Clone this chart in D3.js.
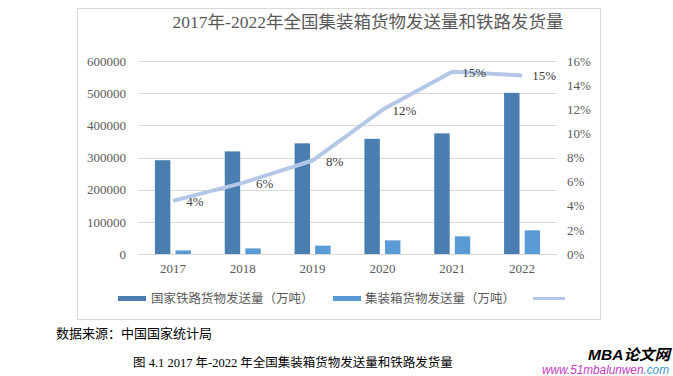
<!DOCTYPE html>
<html>
<head>
<meta charset="utf-8">
<script src="https://cdn.jsdelivr.net/npm/d3@7"></script>
<style>
  body { margin: 0; background: #fff; }
  text { font-family: "Liberation Serif", "Noto Sans CJK SC", serif; }
</style>
</head>
<body>
<div id="chart"></div>
<script>
// data
const years = ["2017", "2018", "2019", "2020", "2021", "2022"];
const railFreight = [291600, 319000, 344000, 358000, 375000, 501000];
const containerFreight = [11200, 17400, 26000, 42400, 55000, 73600];
const shareRate = [0.044, 0.059, 0.0775, 0.1195, 0.151, 0.148];
const shareLabels = ["4%", "6%", "8%", "12%", "15%", "15%"];
const leftTicks = [0, 100000, 200000, 300000, 400000, 500000, 600000];
const rightTicks = [0, 0.02, 0.04, 0.06, 0.08, 0.10, 0.12, 0.14, 0.16];

const railColor = "#4a7db0";
const boxColor = "#5b9bd5";
const lineColor = "#b4c7e7";

const svg = d3.select("#chart")
    .append("svg")
    .attr("width", 673)
    .attr("height", 376);

// chart frame
svg.append("rect")
    .attr("x", 77.5).attr("y", 8.5)
    .attr("width", 523).attr("height", 311)
    .attr("fill", "#fff")
    .attr("stroke", "#d9d9d9");

// title
svg.append("text")
    .attr("x", 368).attr("y", 28)
    .attr("text-anchor", "middle")
    .attr("font-size", 17.5)
    .attr("fill", "#595959")
    .text("2017年-2022年全国集装箱货物发送量和铁路发货量");

const xScale = d3.scaleBand().domain(years).range([138, 557]);
const xSub = d3.scaleBand().domain(["rail", "box"]).range([-18, 18]).paddingInner(0.25);
const yLeft = d3.scaleLinear().domain([0, 600000]).range([254, 61]);
const yRight = d3.scaleLinear().domain([0, 0.16]).range([254, 61]);

// gridlines
svg.append("g")
    .selectAll("line")
    .data(leftTicks)
    .enter()
    .append("line")
    .attr("x1", 138).attr("x2", 557)
    .attr("y1", d => Math.round(yLeft(d)) + 0.5)
    .attr("y2", d => Math.round(yLeft(d)) + 0.5)
    .attr("stroke", "#d9d9d9");

// left axis
const leftAxis = svg.append("g")
    .attr("transform", "translate(138,0)")
    .call(d3.axisLeft(yLeft).tickValues(leftTicks).tickSize(0).tickPadding(12).tickFormat(d3.format("d")));
leftAxis.select(".domain").remove();
leftAxis.selectAll("text").attr("font-size", 13).attr("fill", "#595959")
    .style("font-family", "Liberation Serif");

// right axis
const rightAxis = svg.append("g")
    .attr("transform", "translate(557,0)")
    .call(d3.axisRight(yRight).tickValues(rightTicks).tickSize(0).tickPadding(10).tickFormat(d3.format(".0%")));
rightAxis.select(".domain").remove();
rightAxis.selectAll("text").attr("font-size", 13).attr("fill", "#595959")
    .style("font-family", "Liberation Serif");

// bottom axis
const bottomAxis = svg.append("g")
    .attr("transform", "translate(0,254)")
    .call(d3.axisBottom(xScale).tickSize(0).tickPadding(10));
bottomAxis.select(".domain").attr("stroke", "#d9d9d9");
bottomAxis.selectAll("text").attr("font-size", 13).attr("fill", "#595959")
    .style("font-family", "Liberation Serif");

// bars
const groups = svg.append("g")
    .selectAll("g")
    .data(years)
    .enter()
    .append("g")
    .attr("transform", d => `translate(${xScale(d) + xScale.bandwidth() / 2},0)`);

groups.append("rect")
    .attr("x", xSub("rail"))
    .attr("width", xSub.bandwidth())
    .attr("y", (d, i) => yLeft(railFreight[i]))
    .attr("height", (d, i) => yLeft(0) - yLeft(railFreight[i]))
    .attr("fill", railColor);

groups.append("rect")
    .attr("x", xSub("box"))
    .attr("width", xSub.bandwidth())
    .attr("y", (d, i) => yLeft(containerFreight[i]))
    .attr("height", (d, i) => yLeft(0) - yLeft(containerFreight[i]))
    .attr("fill", boxColor);

// share line
const shareLine = d3.line()
    .x((d, i) => xScale(years[i]) + xScale.bandwidth() / 2)
    .y(d => yRight(d));

svg.append("path")
    .datum(shareRate)
    .attr("fill", "none")
    .attr("stroke", lineColor)
    .attr("stroke-width", 4)
    .attr("stroke-linejoin", "round")
    .attr("d", shareLine);

// data labels
svg.append("g")
    .selectAll("text")
    .data(shareRate)
    .enter()
    .append("text")
    .attr("x", (d, i) => xScale(years[i]) + xScale.bandwidth() / 2 + 22)
    .attr("y", d => yRight(d) + 5)
    .attr("text-anchor", "middle")
    .attr("font-size", 13)
    .attr("fill", "#404040")
    .style("font-family", "Liberation Serif")
    .text((d, i) => shareLabels[i]);

// legend
const legend = svg.append("g").attr("font-size", 12.5).attr("fill", "#595959");
legend.append("rect").attr("x", 118).attr("y", 296).attr("width", 28).attr("height", 5).attr("fill", railColor);
legend.append("text").attr("x", 151).attr("y", 303).style("font-family", "Noto Sans CJK SC")
    .text("国家铁路货物发送量（万吨）");
legend.append("rect").attr("x", 333).attr("y", 296).attr("width", 28).attr("height", 5).attr("fill", boxColor);
legend.append("text").attr("x", 365).attr("y", 303).style("font-family", "Noto Sans CJK SC")
    .text("集装箱货物发送量（万吨）");
legend.append("line").attr("x1", 533).attr("x2", 565).attr("y1", 298.5).attr("y2", 298.5)
    .attr("stroke", lineColor).attr("stroke-width", 3);

// source note and caption
svg.append("text")
    .attr("x", 56).attr("y", 338)
    .attr("font-size", 13)
    .attr("fill", "#000")
    .text("数据来源：中国国家统计局");

svg.append("text")
    .attr("x", 133).attr("y", 367)
    .attr("font-size", 12.5)
    .attr("fill", "#000")
    .text("图  4.1 2017 年-2022 年全国集装箱货物发送量和铁路发货量");

// watermark
svg.append("text")
    .attr("x", 588).attr("y", 360)
    .attr("font-size", 15)
    .attr("font-weight", "bold")
    .attr("font-style", "italic")
    .attr("textLength", 82)
    .attr("lengthAdjust", "spacingAndGlyphs")
    .style("font-family", "Liberation Sans, Noto Sans CJK SC")
    .attr("fill", "#000")
    .text("MBA论文网");

const wm = svg.append("text")
    .attr("x", 542).attr("y", 374)
    .attr("font-size", 12)
    .attr("font-style", "italic")
    .attr("textLength", 127)
    .attr("lengthAdjust", "spacingAndGlyphs")
    .style("font-family", "Liberation Sans");
wm.append("tspan").attr("fill", "#c23bc2").text("www.51mbalunwen");
wm.append("tspan").attr("fill", "#3a9ad0").text(".com");
</script>
</body>
</html>
